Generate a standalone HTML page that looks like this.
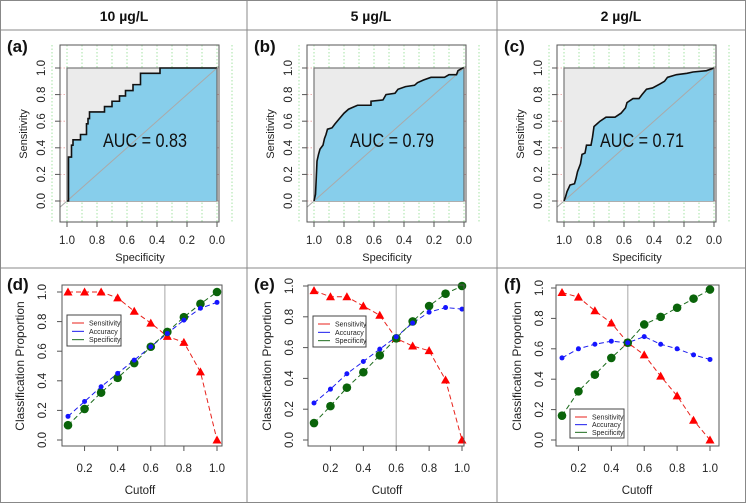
<!DOCTYPE html>
<html><head><meta charset="utf-8"><style>
html,body{margin:0;padding:0;background:#fff;}
svg{display:block;font-family:"Liberation Sans",Arial,sans-serif;}
</style></head><body>
<svg id="fig" width="746" height="503" viewBox="0 0 746 503" xmlns="http://www.w3.org/2000/svg"></svg>
<script>
// ROC data (specificity, sensitivity)
const rocSpecA = [1,0.99,0.99,0.97,0.97,0.96,0.96,0.91,0.91,0.87,0.87,0.86,0.86,0.85,0.85,0.75,0.75,0.70,0.70,0.65,0.65,0.61,0.61,0.56,0.56,0.51,0.51,0.38,0.38,0];
const rocSensA = [0,0,0.33,0.33,0.42,0.42,0.46,0.46,0.5,0.5,0.58,0.58,0.62,0.62,0.67,0.67,0.71,0.71,0.75,0.75,0.79,0.79,0.83,0.83,0.875,0.875,0.96,0.96,1,1];
const rocSpecB = [1,0.99,0.985,0.98,0.97,0.96,0.94,0.93,0.92,0.91,0.88,0.86,0.83,0.8,0.77,0.75,0.71,0.62,0.62,0.54,0.52,0.46,0.44,0.39,0.33,0.31,0.27,0.22,0.13,0.1,0.05,0.04,0.01,0];
const rocSensB = [0,0.05,0.17,0.3,0.35,0.39,0.42,0.47,0.5,0.54,0.55,0.58,0.62,0.66,0.69,0.7,0.72,0.72,0.75,0.76,0.8,0.81,0.84,0.86,0.87,0.89,0.91,0.93,0.93,0.95,0.95,0.98,1,1];
const rocSpecC = [1,0.99,0.98,0.96,0.93,0.92,0.91,0.89,0.88,0.86,0.85,0.82,0.81,0.8,0.78,0.76,0.72,0.66,0.62,0.59,0.58,0.54,0.5,0.48,0.45,0.41,0.36,0.33,0.31,0.25,0.18,0.14,0.05,0];
const rocSensC = [0,0.03,0.07,0.12,0.13,0.17,0.22,0.28,0.35,0.36,0.42,0.42,0.48,0.56,0.58,0.6,0.63,0.63,0.66,0.7,0.74,0.77,0.77,0.8,0.84,0.85,0.88,0.9,0.93,0.95,0.96,0.97,0.98,1];
const aucLabels = ["AUC = 0.83","AUC = 0.79","AUC = 0.71"];
const rocXTicks = [1.0,0.8,0.6,0.4,0.2,0.0];
const rocYTicks = [0.0,0.2,0.4,0.6,0.8,1.0];
// Cutoff data
const cutoffs = [0.1,0.2,0.3,0.4,0.5,0.6,0.7,0.8,0.9,1.0];
const sensD = [1,1,1,0.96,0.87,0.79,0.70,0.66,0.46,0.0];
const accD  = [0.16,0.26,0.36,0.45,0.54,0.63,0.72,0.81,0.89,0.93];
const specD = [0.10,0.21,0.32,0.42,0.52,0.63,0.73,0.83,0.92,1.0];
const sensE = [0.97,0.93,0.93,0.87,0.81,0.66,0.61,0.58,0.39,0.0];
const accE  = [0.24,0.33,0.43,0.51,0.59,0.67,0.76,0.83,0.86,0.85];
const specE = [0.11,0.22,0.34,0.44,0.55,0.66,0.77,0.87,0.95,1.0];
const sensF = [0.97,0.94,0.85,0.77,0.64,0.56,0.42,0.29,0.13,0.0];
const accF  = [0.54,0.60,0.63,0.65,0.64,0.68,0.63,0.60,0.56,0.53];
const specF = [0.16,0.32,0.43,0.54,0.64,0.76,0.81,0.87,0.93,0.99];
const optCut = [0.685,0.6,0.5];
const cutXTicks = [0.2,0.4,0.6,0.8,1.0];
const cutYTicks = [0.0,0.2,0.4,0.6,0.8,1.0];
const headers = ["10 µg/L","5 µg/L","2 µg/L"];
const legendNames = ["Sensitivity","Accuracy","Specificity"];

const NS="http://www.w3.org/2000/svg";
const svg=document.getElementById('fig');
function mk(tag,attrs,parent){const e=document.createElementNS(NS,tag);for(const k in attrs)e.setAttribute(k,attrs[k]);(parent||svg).appendChild(e);return e;}

const frame=mk('rect',{x:0.5,y:0.5,width:745,height:502,fill:'none',stroke:'#888','stroke-width':1});


[[0,30,746,30],[0,268,746,268],[247,0,247,503],[497,0,497,503]].forEach(l=>{
  const ln=mk('line',{x1:l[0],y1:l[1],x2:l[2],y2:l[3],stroke:'#888','stroke-width':1});
  
  
});
const colOff=[0,247,497];
headers.forEach((h,i)=>{
  const t=mk('text',{x:colOff[i]+124,y:21,'text-anchor':'middle','font-size':14,'font-weight':'bold',fill:'#111'});
  t.textContent=h;
  
  
});

function rocPanel(i,spec,sens,label){
  const ox=colOff[i];
  const g=mk('g',{});
  
  
  const x0=ox+67, x1=ox+217, y0=201, y1=68;
  const sx=v=>x0+(1-v)*(x1-x0);
  const sy=v=>y0-v*(y0-y1);
  const bx=ox+60,bw=159,by=45,bh=177;
  const clipId='clip'+i;
  const cp=mk('clipPath',{id:clipId},g);mk('rect',{x:bx,y:by,width:bw,height:bh},cp);
  for(let v=1.1;v>=-0.11;v-=0.1){
    const gl=mk('line',{x1:sx(v),y1:by,x2:sx(v),y2:by+bh,stroke:'#8fdc8f','stroke-width':0.8,'stroke-dasharray':'1.5,2'},g);
    
    
  }
  rocYTicks.forEach(v=>{
    const gl=mk('line',{x1:bx,y1:sy(v),x2:bx+bw,y2:sy(v),stroke:'#e89a9a','stroke-width':0.8,'stroke-dasharray':'1.5,2'},g);
    
    
  });
  const bg=mk('rect',{x:sx(1),y:sy(1),width:sx(0)-sx(1),height:sy(0)-sy(1),fill:'#ebebeb',stroke:'#777','stroke-width':1.2},g);
  
  
  let d='M'+sx(spec[0])+','+sy(0);
  spec.forEach((s,k)=>{d+=' L'+sx(s)+','+sy(sens[k]);});
  d+=' L'+sx(0)+','+sy(0)+' Z';
  const area=mk('path',{d:d,fill:'#87ceeb',stroke:'none'},g);
  
  
  const diag=mk('line',{x1:sx(1.05),y1:sy(-0.05),x2:sx(-0.05),y2:sy(1.05),stroke:'#aaa','stroke-width':1,'clip-path':'url(#'+clipId+')'},g);
  
  
  let cd='';spec.forEach((s,k)=>{cd+=(k?' L':'M')+sx(s)+','+sy(sens[k]);});
  const curve=mk('path',{d:cd,fill:'none',stroke:'#111','stroke-width':1.6},g);
  
  
  const side=mk('line',{x1:sx(0),y1:sy(0),x2:sx(0),y2:sy(1),stroke:'#666','stroke-width':1.2},g);
  
  
  const box=mk('rect',{x:bx,y:by,width:bw,height:bh,fill:'none',stroke:'#555','stroke-width':1},g);
  
  
  rocXTicks.forEach(v=>{
    const tk=mk('line',{x1:sx(v),y1:by+bh,x2:sx(v),y2:by+bh+5,stroke:'#555'},g);
    
    
    const t=mk('text',{x:sx(v),y:244,'text-anchor':'middle','font-size':11.5,fill:'#222'},g);
    t.textContent=v.toFixed(1);
    
    
  });
  rocYTicks.forEach(v=>{
    const tk=mk('line',{x1:bx,y1:sy(v),x2:bx-5,y2:sy(v),stroke:'#555'},g);
    
    
    const t=mk('text',{x:0,y:0,'text-anchor':'middle','font-size':11.5,fill:'#222',transform:'translate('+(ox+45)+','+sy(v)+') rotate(-90)'},g);
    t.textContent=v.toFixed(1);
    
    
  });
  const yl=mk('text',{x:0,y:0,'text-anchor':'middle','font-size':11,fill:'#222',transform:'translate('+(ox+27)+',134) rotate(-90)'},g);
  yl.textContent='Sensitivity';
  
  
  const xl=mk('text',{x:ox+140,y:261,'text-anchor':'middle','font-size':11,fill:'#222'},g);
  xl.textContent='Specificity';
  
  
  const auc=mk('text',{x:ox+103,y:147,'font-size':19,fill:'#111',textLength:84,lengthAdjust:'spacingAndGlyphs'},g);
  auc.textContent=aucLabels[i];
  
  
  const pl=mk('text',{x:ox+7,y:52,'font-size':17,'font-weight':'bold',fill:'#111'},g);
  pl.textContent='('+label+')';
  
  
}
rocPanel(0,rocSpecA,rocSensA,'a');
rocPanel(1,rocSpecB,rocSensB,'b');
rocPanel(2,rocSpecC,rocSensC,'c');

function cutPanel(i,sens,acc,spec,label,cfg){
  const ox=colOff[i];
  const g=mk('g',{});
  
  
  const sx=v=>cfg.x0+(v-0.1)/0.9*(cfg.x1-cfg.x0);
  const sy=v=>cfg.y0-v*(cfg.y0-cfg.y1);
  const bx=cfg.bx,bw=cfg.bw,by=285,bh=161;
  const vl=mk('line',{x1:sx(optCut[i]),y1:by,x2:sx(optCut[i]),y2:by+bh,stroke:'#bbb','stroke-width':1.3},g);
  
  
  const series=[[sens,'#e8211b','sensitivity'],[acc,'#1a1aee','accuracy'],[spec,'#1d6b1d','specificity']];
  series.forEach(s=>{
    let d='';cutoffs.forEach((c,k)=>{d+=(k?' L':'M')+sx(c)+','+sy(s[0][k]);});
    const p=mk('path',{d:d,fill:'none',stroke:s[1],'stroke-width':1,'stroke-dasharray':'5,3'},g);
    
    
  });
  cutoffs.forEach((c,k)=>{
    const x=sx(c),y=sy(sens[k]);
    const tr=mk('polygon',{points:(x-4.5)+','+(y+3.5)+' '+(x+4.5)+','+(y+3.5)+' '+x+','+(y-4.5),fill:'#f00'},g);
    
    
  });
  cutoffs.forEach((c,k)=>{
    const gp=mk('circle',{cx:sx(c),cy:sy(spec[k]),r:4.3,fill:'#0a640a'},g);
    
    
  });
  cutoffs.forEach((c,k)=>{
    const bp=mk('circle',{cx:sx(c),cy:sy(acc[k]),r:2.5,fill:'#1515ff'},g);
    
    
  });
  const box=mk('rect',{x:bx,y:by,width:bw,height:bh,fill:'none',stroke:'#555','stroke-width':1},g);
  
  
  cutXTicks.forEach(v=>{
    const tk=mk('line',{x1:sx(v),y1:by+bh,x2:sx(v),y2:by+bh+5,stroke:'#555'},g);
    
    
    const t=mk('text',{x:sx(v),y:472,'text-anchor':'middle','font-size':11.5,fill:'#222'},g);
    t.textContent=v.toFixed(1);
    
    
  });
  cutYTicks.forEach(v=>{
    const tk=mk('line',{x1:bx,y1:sy(v),x2:bx-5,y2:sy(v),stroke:'#555'},g);
    
    
    const t=mk('text',{x:0,y:0,'text-anchor':'middle','font-size':11.5,fill:'#222',transform:'translate('+(ox+46)+','+sy(v)+') rotate(-90)'},g);
    t.textContent=v.toFixed(1);
    
    
  });
  const yl=mk('text',{x:0,y:0,'text-anchor':'middle','font-size':12,fill:'#222',transform:'translate('+(ox+24)+',366) rotate(-90)'},g);
  yl.textContent='Classification Proportion';
  
  
  const xl=mk('text',{x:ox+140,y:494,'text-anchor':'middle','font-size':11.5,fill:'#222'},g);
  xl.textContent='Cutoff';
  
  
  const pl=mk('text',{x:ox+7,y:290,'font-size':17,'font-weight':'bold',fill:'#111'},g);
  pl.textContent='('+label+')';
  
  
  const L=cfg.leg;
  const lg=mk('g',{},g);
  
  
  const lb=mk('rect',{x:L[0],y:L[1],width:L[2],height:L[3],fill:'#fff',stroke:'#444','stroke-width':1},lg);
  
  
  legendNames.forEach((n,k)=>{
    const yy=L[1]+6+k*(L[3]-6)/3+2;
    const ll=mk('line',{x1:L[0]+5,y1:yy,x2:L[0]+17,y2:yy,stroke:series[k][1],'stroke-width':1},lg);
    
    
    const t=mk('text',{x:L[0]+22,y:yy+2.5,'font-size':7,fill:'#222'},lg);
    t.textContent=n;
    
    
  });
}
cutPanel(0,sensD,accD,specD,'d',{x0:68,x1:217,y0:440,y1:292,bx:62,bw:160,leg:[67,315,54,31]});
cutPanel(1,sensE,accE,specE,'e',{x0:314,x1:462,y0:440,y1:286,bx:308,bw:156,leg:[313,316,53,31]});
cutPanel(2,sensF,accF,specF,'f',{x0:562,x1:710,y0:440,y1:288,bx:556,bw:163,leg:[570,409,54,29]});
</script>
</body></html>
